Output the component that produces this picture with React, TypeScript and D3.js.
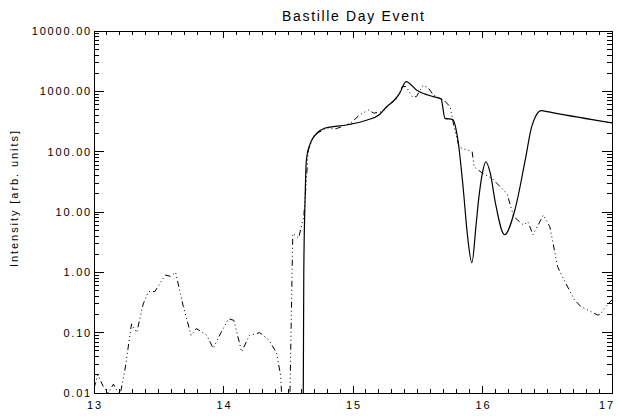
import React from "react";
import * as d3 from "d3";

// Observed intensity (dash-dot-dot-dot line)
const obsTime = [13.0, 13.03, 13.07, 13.11, 13.15, 13.2, 13.24, 13.29, 13.33, 13.38, 13.42, 13.47, 13.55, 13.59, 13.63, 13.69, 13.75, 13.79, 13.87, 13.92, 13.98, 14.04, 14.08, 14.14, 14.2, 14.28, 14.35, 14.41, 14.44, 14.46, 14.51, 14.535, 14.58, 14.62, 14.64, 14.655, 14.7, 14.8, 14.83, 14.87, 14.98, 15.05, 15.12, 15.16, 15.23, 15.29, 15.34, 15.38, 15.41, 15.46, 15.49, 15.54, 15.58, 15.62, 15.7, 15.75, 15.78, 15.82, 15.88, 15.92, 15.935, 16.0, 16.075, 16.11, 16.19, 16.24, 16.316, 16.35, 16.39, 16.47, 16.52, 16.58, 16.61, 16.71, 16.76, 16.89, 16.91, 16.94, 16.97, 17.0];
const obsValue = [0.012, 0.02, 0.013, 0.01, 0.014, 0.009, 0.025, 0.14, 0.1, 0.3, 0.48, 0.48, 0.9, 0.86, 1.0, 0.27, 0.09, 0.117, 0.091, 0.055, 0.1, 0.17, 0.16, 0.048, 0.09, 0.1, 0.076, 0.046, 0.02, 0.004, 0.004, 4.4, 3.7, 8.4, 34, 107, 190, 250, 240, 240, 295, 405, 490, 435, 460, 630, 760, 1195, 1200, 800, 820, 1250, 1150, 870, 720, 556, 260, 118, 107, 100, 56, 44, 36, 30, 20, 8.4, 6.1, 6.9, 4.2, 8.9, 5.7, 1.24, 0.9, 0.35, 0.27, 0.196, 0.2, 0.25, 0.3, 0.35];

// Model intensity (solid line)
const modelTime = [14.614, 14.62, 14.63, 14.64, 14.67, 14.72, 14.78, 14.95, 15.11, 15.2, 15.26, 15.32, 15.36, 15.41, 15.49, 15.62, 15.68, 15.71, 15.77, 15.81, 15.85, 15.885, 15.918, 15.95, 15.97, 16.0, 16.025, 16.06, 16.1, 16.17, 16.25, 16.33, 16.38, 16.455, 16.48, 16.55, 17.0];
const modelValue = [0.001, 1, 16, 72, 137, 200, 244, 277, 335, 405, 556, 718, 927, 1450, 1052, 815, 750, 357, 340, 156, 26, 3.9, 1.44, 6, 16, 45, 68, 44, 14, 4.2, 10.8, 73, 260, 480, 470, 440, 300];

const xTicks = [13, 14, 15, 16, 17];
const yTicks = [0.01, 0.1, 1, 10, 100, 1000, 10000];
const title = "Bastille Day Event";
const yTitle = "Intensity [arb. units]";

const W = 617, H = 416;
const L = 94, R = 612, T = 31, B = 393;

export default function App() {
  const x = d3.scaleLinear().domain([13, 17]).range([L, R]);
  const y = d3.scaleLog().domain([0.01, 10000]).range([B, T]);

  const obs = obsTime.map((t, i) => [t, obsValue[i]] as [number, number]);
  const model = modelTime.map((t, i) => [t, modelValue[i]] as [number, number]);

  const lineObs = d3.line<[number, number]>().x(d => x(d[0])).y(d => y(d[1]));
  const lineModel = d3.line<[number, number]>().x(d => x(d[0])).y(d => y(d[1])).curve(d3.curveMonotoneX);

  const xMinor: number[] = [];
  for (let i = 0; i <= 40; i++) { if (i % 10 !== 0) xMinor.push(13 + i * 0.1); }
  const yMinor: number[] = [];
  for (let e = -2; e < 4; e++) for (let m = 2; m <= 9; m++) yMinor.push(m * Math.pow(10, e));

  const majX = 7.2, minX = 3.6, majY = 10.4, minY = 5.2;
  const font = "'Liberation Sans', Arial, sans-serif";
  const fmt = d3.format(".2f");

  return (
    <svg width={W} height={H} style={{ position: "absolute", left: 0, top: 0, background: "#fff" }} fontFamily={font}>
      <defs>
        <clipPath id="plotclip"><rect x={L} y={T} width={R - L} height={B - T} /></clipPath>
      </defs>
      <rect x={0} y={0} width={W} height={H} fill="#fff" />
      <text x={(L + R) / 2} y={21} textAnchor="middle" fontSize={14} textLength={142} lengthAdjust="spacing">{title}</text>
      <text transform={`translate(18,199) rotate(-90)`} textAnchor="middle" fontSize={11} textLength={136} lengthAdjust="spacing">{yTitle}</text>
      <g stroke="#000" strokeWidth={1} fill="none" shapeRendering="crispEdges">
        <rect x={L} y={T} width={R - L} height={B - T} />
        {xTicks.map(t => (
          <g key={"xt" + t}>
            <line x1={x(t)} x2={x(t)} y1={B} y2={B - majX} />
            <line x1={x(t)} x2={x(t)} y1={T} y2={T + majX} />
          </g>
        ))}
        {xMinor.map((t, i) => (
          <g key={"xm" + i}>
            <line x1={x(t)} x2={x(t)} y1={B} y2={B - minX} />
            <line x1={x(t)} x2={x(t)} y1={T} y2={T + minX} />
          </g>
        ))}
        {yTicks.map(v => (
          <g key={"yt" + v}>
            <line x1={L} x2={L + majY} y1={y(v)} y2={y(v)} />
            <line x1={R} x2={R - majY} y1={y(v)} y2={y(v)} />
          </g>
        ))}
        {yMinor.map((v, i) => (
          <g key={"ym" + i}>
            <line x1={L} x2={L + minY} y1={y(v)} y2={y(v)} />
            <line x1={R} x2={R - minY} y1={y(v)} y2={y(v)} />
          </g>
        ))}
      </g>
      <g fontSize={11} fill="#000" letterSpacing={1.8}>
        {yTicks.map(v => (
          <text key={"yl" + v} x={L - 2} y={y(v) + 4} textAnchor="end">{fmt(v)}</text>
        ))}
        {xTicks.map(t => (
          <text key={"xl" + t} x={Math.min(x(t) + 1, W - 10)} y={409} textAnchor="middle">{String(t)}</text>
        ))}
      </g>
      <g clipPath="url(#plotclip)" fill="none" stroke="#000" strokeWidth={1}>
        <path d={lineObs(obs) || ""} strokeDasharray="6,3,1,3,1,3,1,3" />
        <path d={lineModel(model) || ""} strokeWidth={1.2} />
      </g>
    </svg>
  );
}
